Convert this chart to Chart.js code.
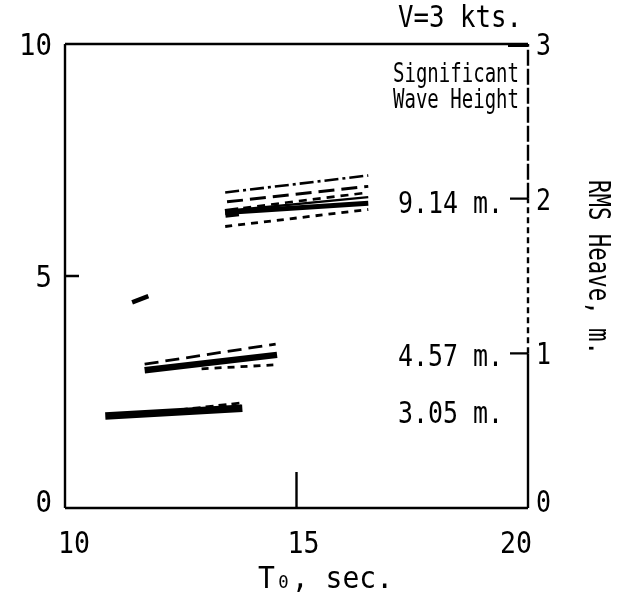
<!DOCTYPE html>
<html>
<head>
<meta charset="utf-8">
<script src="https://cdn.jsdelivr.net/npm/chart.js@4"></script>
<style>
html,body{margin:0;padding:0;background:#fff;}
#wrap{width:622px;height:607px;position:relative;}
</style>
</head>
<body>
<div id="wrap"><canvas id="c" width="622" height="607"></canvas></div>
<script>
// ---- data (T0 in sec, RMS heave in m) ----
const xTicks = [10, 15, 20];
const leftTicks = [0, 5, 10];
const rightTicks = [0, 1, 2, 3];
const waveLabels = ["9.14 m.", "4.57 m.", "3.05 m."];
const waveLabelHeave = [1.98, 0.99, 0.62];

// 9.14 m group
const h914_a = [{x:13.46,y:2.04},{x:16.55,y:2.15}];
const h914_b = [{x:13.50,y:1.98},{x:16.55,y:2.08}];
const h914_c = [{x:13.85,y:1.94},{x:16.55,y:2.04}];
const h914_d = [{x:13.46,y:1.92},{x:16.55,y:2.01}];
const h914_e = [{x:13.46,y:1.91},{x:16.55,y:1.97}];
const h914_f = [{x:13.46,y:1.82},{x:16.55,y:1.93}];
const h914_g = [{x:13.46,y:1.905},{x:13.75,y:1.915}];
// 4.57 m group
const h457_a = [{x:11.72,y:0.93},{x:14.55,y:1.06}];
const h457_b = [{x:11.72,y:0.89},{x:14.58,y:0.99}];
const h457_c = [{x:12.95,y:0.90},{x:14.50,y:0.925}];
// 3.05 m group
const h305_a = [{x:10.87,y:0.595},{x:13.83,y:0.645}];
const h305_b = [{x:12.20,y:0.625},{x:13.83,y:0.68}];
const h305_c = [{x:12.50,y:0.61},{x:13.80,y:0.66}];
// stray mark
const stray = [{x:11.45,y:1.33},{x:11.80,y:1.37}];

const FONT = "'DejaVu Sans Mono', 'Liberation Mono', monospace";

function ds(data, width, dash){
  return {data, yAxisID:'y2', borderColor:'#000', borderWidth:width,
          borderDash:dash, pointRadius:0, fill:false, tension:0, borderCapStyle:'butt'};
}

const datasets = [
  ds(h914_a, 2.6, [14,4,3,4]),
  ds(h914_b, 2.8, [16,7]),
  ds(h914_c, 2.6, [8,6]),
  ds(h914_d, 2.4, []),
  ds(h914_e, 5, []),
  ds(h914_f, 2.8, [7,6]),
  ds(h914_g, 9, []),
  ds(h457_a, 2.8, [14,7]),
  ds(h457_b, 6.5, []),
  ds(h457_c, 2.8, [7,6]),
  ds(h305_a, 7.5, []),
  ds(h305_b, 2.8, [8,5]),
  ds(h305_c, 2.8, [6,4]),
  ds(stray, 4.5, []),
];

// draw text fitted to a target width (typewriter-style narrow glyphs)
function fitText(ctx, text, x, baseY, align, size, width){
  ctx.save();
  ctx.font = size + "px " + FONT;
  ctx.textBaseline = 'alphabetic';
  const w = ctx.measureText(text).width;
  const sx = width / w;
  ctx.translate(x, baseY);
  ctx.scale(sx, 1);
  ctx.textAlign = align;
  ctx.fillText(text, 0, 0);
  ctx.restore();
}

const deco = {
  id:'deco',
  afterDraw(chart){
    const {ctx, chartArea:a, scales} = chart;
    const x = scales.x, y2 = scales.y2, y = scales.y;
    ctx.save();
    ctx.strokeStyle = '#000';
    ctx.lineWidth = 2.4;
    ctx.setLineDash([]);
    ctx.beginPath();
    ctx.moveTo(a.left, a.bottom); ctx.lineTo(a.left, a.top);
    ctx.moveTo(a.left, a.top); ctx.lineTo(a.right, a.top);
    ctx.moveTo(a.left, a.bottom); ctx.lineTo(a.right, a.bottom);
    ctx.stroke();
    ctx.beginPath();
    ctx.moveTo(a.right, y2.getPixelForValue(0)); ctx.lineTo(a.right, y2.getPixelForValue(1));
    ctx.stroke();
    ctx.setLineDash([6,4]);
    ctx.beginPath();
    ctx.moveTo(a.right, y2.getPixelForValue(1)); ctx.lineTo(a.right, y2.getPixelForValue(2));
    ctx.stroke();
    ctx.setLineDash([16,3]);
    ctx.beginPath();
    ctx.moveTo(a.right, y2.getPixelForValue(2)); ctx.lineTo(a.right, y2.getPixelForValue(3));
    ctx.stroke();
    ctx.setLineDash([]);
    ctx.beginPath();
    const p5 = y.getPixelForValue(5);
    ctx.moveTo(a.left, p5); ctx.lineTo(a.left + 14, p5);
    const px15 = x.getPixelForValue(15);
    ctx.moveTo(px15, a.bottom); ctx.lineTo(px15, a.bottom - 36);
    [1,2].forEach(v=>{const p=y2.getPixelForValue(v); ctx.moveTo(a.right-18,p); ctx.lineTo(a.right,p);});
    ctx.stroke();
    ctx.lineWidth = 4;
    ctx.beginPath();
    const p3 = y2.getPixelForValue(3);
    ctx.moveTo(a.right-20, p3+1); ctx.lineTo(a.right, p3+1);
    ctx.stroke();

    ctx.fillStyle = '#000';
    // tick labels
    leftTicks.forEach(v=>{
      const p = y.getPixelForValue(v);
      const t = String(v);
      fitText(ctx, t, a.left - 13, v === 0 ? p + 4 : p + 11, 'right', 31, 16.5 * t.length);
    });
    rightTicks.forEach(v=>{
      const p = y2.getPixelForValue(v);
      const t = String(v);
      fitText(ctx, t, a.right + 8, v === 0 ? p + 4 : p + 11, 'left', 31, 15 * t.length);
    });
    const xNudge = {10: 9, 15: 7, 20: -12};
    xTicks.forEach(v=>{
      const p = x.getPixelForValue(v) + (xNudge[v] || 0);
      const t = String(v);
      fitText(ctx, t, p, a.bottom + 45, 'center', 31, 16 * t.length);
    });

    // annotations
    fitText(ctx, 'V=3 kts.', 398, 27, 'left', 30, 124);
    fitText(ctx, 'Significant', 393, 82, 'left', 26, 126);
    fitText(ctx, 'Wave Height', 393, 108, 'left', 26, 126);
    waveLabels.forEach((t,i)=>{
      fitText(ctx, t, 398, y2.getPixelForValue(waveLabelHeave[i]) + 11, 'left', 31, 105);
    });
    // x title
    fitText(ctx, 'T\u2080, sec.', 258, 588, 'left', 31, 135);
    // right title
    ctx.save();
    ctx.translate(589, 180);
    ctx.rotate(Math.PI/2);
    fitText(ctx, 'RMS Heave, m.', 0, 0, 'left', 30, 175);
    ctx.restore();
    ctx.restore();
  }
};

new Chart(document.getElementById('c'), {
  type:'line',
  data:{datasets},
  options:{
    responsive:false,
    animation:false,
    devicePixelRatio:1,
    layout:{padding:{top:44,left:0,right:0,bottom:0}},
    plugins:{legend:{display:false}, tooltip:{enabled:false}},
    scales:{
      x:{type:'linear', min:10, max:20,
         afterBuildTicks(s){ s.ticks = xTicks.map(v=>({value:v})); },
         afterFit(s){ s.height = 99; },
         grid:{display:false, drawTicks:false}, border:{display:false},
         ticks:{display:false}},
      y:{type:'linear', position:'left', min:0, max:10,
         afterBuildTicks(s){ s.ticks = leftTicks.map(v=>({value:v})); },
         afterFit(s){ s.width = 65; },
         grid:{display:false, drawTicks:false}, border:{display:false},
         ticks:{display:false}},
      y2:{type:'linear', position:'right', min:0, max:3,
         afterBuildTicks(s){ s.ticks = rightTicks.map(v=>({value:v})); },
         afterFit(s){ s.width = 94; },
         grid:{display:false, drawTicks:false}, border:{display:false},
         ticks:{display:false}}
    }
  },
  plugins:[deco]
});
</script>
</body>
</html>
